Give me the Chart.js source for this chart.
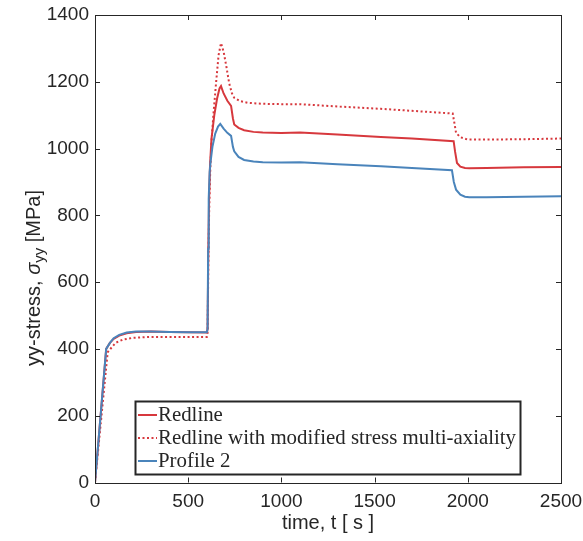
<!DOCTYPE html>
<html>
<head>
<meta charset="utf-8">
<script src="https://cdn.jsdelivr.net/npm/chart.js@4.4.1/dist/chart.umd.min.js"></script>
<style>
html,body{margin:0;padding:0;background:#fff;}
#wrap{position:relative;width:583px;height:541px;}
</style>
</head>
<body>
<div id="wrap"><canvas id="c" width="583" height="541"></canvas></div>
<script>
// ---- data ----
const redlineTime = [0,60,80,100,130,170,220,300,400,500,600,604,608,612,617,625,640,655,668,676,690,710,730,740,747,770,800,850,900,1000,1100,1300,1534,1700,1924,1932,1942,1960,1985,2008,2100,2300,2500];
const redlineStress = [0,400,418,430,440,447,451,452,451,450,449,460,700,850,950,1030,1100,1150,1180,1187,1165,1143,1128,1090,1072,1062,1055,1050,1048,1047,1048,1042,1035,1030,1022,990,957,946,942,941,942,944,945];

const modifiedTime = [0,68,90,110,150,200,300,400,500,600,604,608,612,618,625,635,650,663,676,690,705,720,735,747,780,820,900,1000,1100,1300,1534,1700,1919,1927,1937,1960,1999,2100,2300,2500];
const modifiedStress = [0,390,405,418,428,433,436,436,436,436,445,650,800,930,1020,1100,1200,1280,1316,1290,1245,1195,1165,1152,1142,1137,1134,1133,1133,1126,1119,1113,1105,1080,1047,1034,1027,1027,1028,1030];

const profile2Time = [0,60,80,100,130,170,220,300,400,500,600,604,607,610,615,620,630,645,660,672,690,710,730,740,747,770,800,850,900,1000,1100,1300,1534,1700,1915,1925,1937,1960,1985,2008,2100,2300,2500];
const profile2Stress = [0,400,418,432,442,449,452,452,451,450,450,460,700,850,930,960,1005,1045,1066,1074,1060,1047,1038,1005,992,975,966,961,959,958,959,953,947,942,935,900,877,862,856,854,854,856,857];

const xTicks = [0,500,1000,1500,2000,2500];
const yTicks = [0,200,400,600,800,1000,1200,1400];

const seriesNames = ['Redline','Redline with modified stress multi-axiality','Profile 2'];
const xTitle = 'time, t [ s ]';

// ---- styles ----
const RED = '#d7383d';
const BLUE = '#4a84bb';
const AX = '#262626';
const SANS = '"Liberation Sans", Arial, Helvetica, sans-serif';
const SERIF = '"Liberation Serif", "Times New Roman", serif';

function pts(t, v){ return t.map((x,i)=>({x:x, y:v[i]})); }

const frame = {
  id:'frame',
  afterDatasetsDraw(chart){
    const {ctx, chartArea:a, scales:{x, y}} = chart;
    ctx.save();
    ctx.strokeStyle = AX; ctx.lineWidth = 1;
    ctx.strokeRect(Math.round(a.left)+0.5, Math.round(a.top)+0.5, Math.round(a.right-a.left), Math.round(a.bottom-a.top));
    const L = 5;
    ctx.beginPath();
    xTicks.forEach(v=>{
      const px = Math.round(x.getPixelForValue(v))+0.5;
      ctx.moveTo(px, a.bottom); ctx.lineTo(px, a.bottom-L);
      ctx.moveTo(px, a.top); ctx.lineTo(px, a.top+L);
    });
    yTicks.forEach(v=>{
      const py = Math.round(y.getPixelForValue(v))+0.5;
      ctx.moveTo(a.left, py); ctx.lineTo(a.left+L, py);
      ctx.moveTo(a.right, py); ctx.lineTo(a.right-L, py);
    });
    ctx.stroke();

    // axis titles
    ctx.fillStyle = AX;
    ctx.font = '20px ' + SANS;
    ctx.textAlign = 'center'; ctx.textBaseline = 'middle';
    ctx.fillText(xTitle, (a.left+a.right)/2, 523);

    // y title with subscript
    ctx.save();
    ctx.translate(34, 278);
    ctx.rotate(-Math.PI/2);
    const parts = [
      {t:'yy-stress, ', f:'20px '+SANS, dy:0},
      {t:'\u03c3', f:'italic 20px '+SANS, dy:0},
      {t:'yy', f:'15px '+SANS, dy:6},
      {t:' [MPa]', f:'20px '+SANS, dy:0}
    ];
    let w = 0;
    parts.forEach(p=>{ ctx.font = p.f; p.w = ctx.measureText(p.t).width; w += p.w; });
    let cx = -w/2;
    ctx.textAlign = 'left';
    parts.forEach(p=>{ ctx.font = p.f; ctx.fillText(p.t, cx, p.dy); cx += p.w; });
    ctx.restore();

    // legend
    const bx = 135.5, by = 401.5, bw = 385, bh = 73;
    ctx.fillStyle = '#fff';
    ctx.fillRect(bx, by, bw, bh);
    ctx.lineWidth = 2; ctx.strokeStyle = AX;
    ctx.strokeRect(bx, by, bw, bh);
    ctx.font = '20px ' + SERIF;
    const target = 358;
    const mw = ctx.measureText(seriesNames[1]).width;
    const fs = 20*target/mw;
    ctx.font = fs.toFixed(2)+'px ' + SERIF;
    ctx.textAlign='left'; ctx.textBaseline='middle';
    const rows = [415, 438, 461];
    chart.data.datasets.forEach((ds,i)=>{
      ctx.beginPath();
      ctx.strokeStyle = ds.borderColor; ctx.lineWidth = 2;
      ctx.setLineDash(ds.borderDash || []);
      ctx.moveTo(138, rows[i]); ctx.lineTo(157, rows[i]);
      ctx.stroke();
      ctx.setLineDash([]);
      ctx.fillStyle = AX;
      ctx.fillText(ds.label, 158, rows[i]+1);
    });
    ctx.restore();
  }
};

new Chart(document.getElementById('c'), {
  type:'line',
  data:{
    datasets:[
      {label:seriesNames[0], data:pts(redlineTime, redlineStress), borderColor:RED, borderWidth:2, order:1},
      {label:seriesNames[1], data:pts(modifiedTime, modifiedStress), borderColor:RED, borderWidth:2, borderDash:[2,2.5], order:2},
      {label:seriesNames[2], data:pts(profile2Time, profile2Stress), borderColor:BLUE, borderWidth:2, order:0}
    ]
  },
  options:{
    responsive:false, animation:false,
    layout:{padding:{left:0, right:22, top:15, bottom:0}},
    elements:{point:{radius:0}, line:{tension:0, fill:false}},
    plugins:{legend:{display:false}, tooltip:{enabled:false}},
    scales:{
      x:{type:'linear', min:0, max:2500,
        afterBuildTicks(s){ s.ticks = xTicks.map(v=>({value:v})); },
        afterFit(s){ s.height = 58.5; s.paddingLeft = 0; s.paddingRight = 0; },
        grid:{display:false, drawTicks:false}, border:{display:false},
        ticks:{color:AX, padding:8, font:{family:SANS, size:19}, maxRotation:0, autoSkip:false,
          callback:(v)=>String(v)}
      },
      y:{type:'linear', min:0, max:1400,
        afterBuildTicks(s){ s.ticks = yTicks.map(v=>({value:v})); },
        afterFit(s){ s.width = 95; s.paddingTop = 0; s.paddingBottom = 0; },
        grid:{display:false, drawTicks:false}, border:{display:false},
        ticks:{color:AX, padding:6, font:{family:SANS, size:19}, autoSkip:false,
          callback:(v)=>String(v)}
      }
    }
  },
  plugins:[frame]
});
</script>
</body>
</html>
